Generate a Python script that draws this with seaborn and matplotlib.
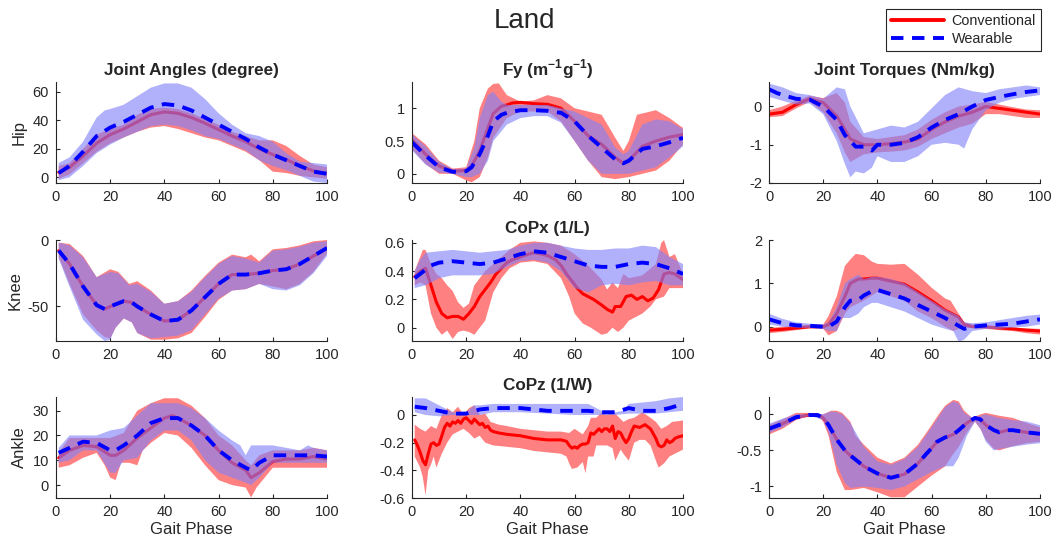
import numpy as np
import matplotlib
matplotlib.use("Agg")
import matplotlib.pyplot as plt
from matplotlib.lines import Line2D
import seaborn as sns

# ---------------- data (gait phase %, value) ----------------
# Hip joint angle (degree)
hipA_c_mean = [(1,3.5),(5,7),(10,15),(15,24),(20,30),(25,34),(30,39),(35,44),(40,46),(45,45),(50,42),(55,38),(60,33.5),(65,29),(70,25),(75,20),(80,16),(85,12.5),(90,8),(95,4.5),(100,2.5)]
hipA_c_hi = [(1,8),(5,10),(10,20),(15,30),(20,34),(25,37),(30,44),(35,48),(40,49),(45,48),(50,45),(55,41),(60,37),(65,32),(70,29),(75,26),(80,26),(85,22),(90,15),(95,9),(100,7)]
hipA_c_lo = [(1,-1),(5,2),(10,10),(15,18),(20,24),(25,28),(30,32),(35,35),(40,36),(45,34),(50,31),(55,28),(60,26),(65,22),(70,18),(75,12),(80,4),(85,3),(90,1),(95,0),(100,-1)]
hipA_w_mean = [(1,3),(5,8),(10,18),(15,29),(20,35),(25,39),(30,44),(35,49),(40,51.5),(45,50.5),(50,47),(55,42),(60,37),(65,32),(70,27),(75,21),(80,16),(85,12),(90,8),(95,4),(100,2.5)]
hipA_w_hi = [(1,10),(5,14),(10,25),(15,42),(18,47),(20,48),(25,51),(30,57),(35,63),(40,66),(45,66),(50,63),(55,55),(60,45),(65,37),(70,31),(75,29),(80,25),(85,17),(90,11),(95,10),(100,9)]
hipA_w_lo = [(1,-2),(5,0),(10,8),(15,17),(20,23),(25,28),(30,32),(35,36),(40,37),(45,36),(50,33),(55,29),(60,27),(65,23),(70,19),(75,12),(80,8),(85,5),(90,1),(95,-3),(100,-4)]

# Fy (m^-1 g^-1)
fy_c_mean = [(0,0.52),(5,0.3),(10,0.12),(15,0.04),(20,0.05),(22,0.12),(25,0.35),(28,0.7),(30,0.92),(33,1.03),(35,1.05),(37,1.08),(40,1.09),(45,1.07),(50,1.06),(55,1.0),(60,0.8),(65,0.58),(70,0.45),(75,0.25),(78,0.16),(80,0.2),(85,0.42),(90,0.5),(95,0.56),(100,0.6)]
fy_c_hi = [(0,0.62),(5,0.45),(10,0.2),(15,0.08),(20,0.1),(23,0.5),(25,1.0),(28,1.3),(30,1.37),(32,1.38),(35,1.2),(40,1.1),(45,1.12),(50,1.2),(55,1.15),(60,1.0),(65,0.95),(70,0.9),(75,0.55),(78,0.35),(80,0.5),(83,0.9),(90,0.97),(95,0.85),(100,0.7)]
fy_c_lo = [(0,0.38),(5,0.15),(10,0.0),(15,0.0),(20,-0.1),(22,-0.13),(25,-0.05),(28,0.25),(30,0.55),(35,0.85),(40,0.95),(45,0.95),(50,0.95),(55,0.8),(60,0.5),(65,0.2),(70,-0.05),(75,-0.08),(80,-0.05),(85,0.0),(90,0.05),(95,0.2),(100,0.45)]
fy_w_mean = [(0,0.48),(5,0.28),(10,0.1),(15,0.03),(20,0.04),(22,0.1),(25,0.3),(28,0.58),(30,0.8),(33,0.9),(35,0.93),(40,0.97),(45,0.97),(50,0.96),(55,0.93),(60,0.8),(65,0.58),(70,0.4),(75,0.22),(78,0.16),(80,0.2),(85,0.38),(90,0.42),(95,0.48),(100,0.55)]
fy_w_hi = [(0,0.6),(5,0.42),(10,0.18),(15,0.07),(20,0.08),(23,0.4),(25,0.85),(28,1.2),(30,1.25),(33,1.1),(35,1.05),(40,1.05),(45,1.05),(50,1.05),(55,1.0),(60,0.95),(65,0.85),(70,0.75),(75,0.4),(78,0.3),(80,0.35),(85,0.75),(90,0.83),(95,0.8),(100,0.68)]
fy_w_lo = [(0,0.36),(5,0.14),(10,0.02),(15,0.0),(20,-0.05),(22,-0.05),(25,0.0),(28,0.2),(30,0.5),(35,0.75),(40,0.85),(45,0.88),(50,0.88),(55,0.78),(60,0.5),(65,0.2),(70,0.0),(75,0.0),(80,0.0),(85,0.05),(90,0.1),(95,0.25),(100,0.42)]

# Hip joint torque (Nm/kg)
hipT_c_mean = [(0,-0.2),(5,-0.15),(10,0.05),(15,0.2),(20,0.1),(25,-0.25),(28,-0.6),(30,-0.85),(35,-1.0),(40,-1.0),(45,-0.97),(50,-0.93),(55,-0.85),(60,-0.6),(65,-0.4),(70,-0.25),(75,-0.15),(80,0.0),(85,-0.05),(90,-0.1),(95,-0.15),(100,-0.2)]
hipT_c_hi = [(0,-0.1),(5,0.0),(10,0.15),(15,0.28),(20,0.22),(25,0.35),(28,0.1),(30,-0.4),(35,-0.8),(40,-0.85),(45,-0.8),(50,-0.75),(55,-0.6),(60,-0.35),(65,-0.15),(70,0.0),(75,0.05),(80,0.12),(85,0.05),(90,-0.02),(95,-0.08),(100,-0.1)]
hipT_c_lo = [(0,-0.28),(5,-0.25),(10,-0.05),(15,0.12),(20,-0.15),(25,-0.7),(28,-1.2),(30,-1.45),(35,-1.25),(40,-1.2),(45,-1.18),(50,-1.15),(55,-1.05),(60,-0.85),(65,-0.7),(70,-0.55),(75,-0.45),(80,-0.2),(85,-0.2),(90,-0.25),(95,-0.3),(100,-0.3)]
hipT_w_mean = [(0,0.45),(3,0.35),(5,0.3),(10,0.2),(15,0.18),(20,0.0),(25,-0.35),(28,-0.75),(30,-0.9),(32,-1.05),(35,-1.05),(38,-1.15),(40,-1.0),(45,-1.0),(50,-0.95),(55,-0.8),(60,-0.55),(65,-0.35),(70,-0.2),(75,0.0),(80,0.17),(85,0.25),(90,0.32),(95,0.38),(100,0.42)]
hipT_w_hi = [(0,0.6),(5,0.5),(10,0.35),(15,0.3),(20,0.2),(25,0.5),(28,0.45),(30,0.0),(35,-0.7),(40,-0.6),(45,-0.5),(50,-0.55),(55,-0.4),(60,-0.05),(65,0.3),(70,0.5),(75,0.4),(80,0.35),(85,0.45),(90,0.5),(95,0.55),(100,0.5)]
hipT_w_lo = [(0,0.25),(5,0.15),(10,0.05),(15,0.08),(20,-0.2),(25,-0.9),(28,-1.5),(30,-1.85),(32,-1.7),(35,-1.75),(38,-1.6),(40,-1.3),(45,-1.45),(50,-1.45),(55,-1.3),(60,-1.0),(65,-0.95),(70,-1.0),(72,-1.1),(75,-0.6),(80,-0.1),(85,0.1),(90,0.2),(95,0.25),(100,0.3)]

# Knee joint angle (degree)
kneeA_c_mean = [(1,-8),(5,-18),(10,-35),(15,-49),(18,-52),(20,-50),(25,-46),(28,-47),(30,-50),(35,-56),(40,-61),(45,-60),(50,-53),(55,-43),(60,-33),(65,-26),(70,-26),(75,-25),(80,-23),(85,-22),(90,-18),(95,-12),(100,-6)]
kneeA_c_hi = [(1,-2),(5,-3),(10,-12),(15,-28),(20,-22),(23,-24),(27,-33),(30,-31),(35,-38),(40,-48),(45,-46),(50,-38),(55,-27),(60,-17),(65,-11),(70,-13),(72,-11),(75,-16),(80,-7),(85,-6),(90,-4),(95,-1),(100,0)]
kneeA_c_lo = [(1,-13),(5,-33),(10,-56),(15,-68),(18,-73),(20,-74),(22,-66),(25,-59),(28,-62),(30,-70),(35,-75),(40,-75),(45,-74),(50,-70),(55,-58),(60,-45),(65,-38),(70,-37),(75,-33),(80,-35),(85,-37),(90,-33),(95,-24),(100,-10)]
kneeA_w_mean = [(1,-8),(5,-18),(10,-35),(15,-49),(18,-52),(20,-50),(25,-46),(28,-47),(30,-50),(35,-56),(40,-61),(45,-60),(50,-53),(55,-43),(60,-33),(65,-26),(70,-26),(75,-25),(80,-23),(85,-22),(90,-18),(95,-12),(100,-6)]
kneeA_w_hi = [(1,-2),(5,-4),(10,-13),(15,-28),(20,-24),(23,-25),(27,-34),(30,-33),(35,-39),(40,-48),(45,-46),(50,-39),(55,-28),(60,-18),(65,-12),(70,-14),(75,-17),(80,-8),(85,-7),(90,-5),(95,-2),(100,-1)]
kneeA_w_lo = [(1,-14),(5,-35),(10,-60),(15,-71),(18,-76),(20,-75),(22,-66),(25,-59),(28,-62),(30,-70),(35,-74),(40,-73),(45,-72),(50,-68),(55,-56),(60,-44),(65,-38),(70,-37),(75,-33),(80,-37),(85,-38),(90,-34),(95,-25),(100,-12)]

# CoPx (1/L)
copx_c_mean = [(1,0.36),(3,0.4),(5,0.42),(7,0.3),(9,0.18),(11,0.1),(13,0.07),(15,0.08),(17,0.08),(19,0.06),(21,0.1),(23,0.15),(25,0.22),(27,0.27),(29,0.32),(31,0.38),(33,0.42),(35,0.46),(37,0.48),(40,0.5),(43,0.52),(45,0.53),(48,0.52),(50,0.51),(53,0.48),(55,0.44),(57,0.38),(59,0.33),(61,0.28),(63,0.24),(65,0.22),(67,0.2),(70,0.16),(72,0.13),(74,0.11),(75,0.15),(77,0.15),(79,0.22),(81,0.23),(83,0.2),(85,0.22),(87,0.19),(89,0.21),(91,0.27),(93,0.38),(95,0.39),(97,0.38),(100,0.34)]
copx_c_hi = [(1,0.4),(3,0.5),(4,0.55),(5,0.55),(7,0.45),(9,0.38),(11,0.35),(13,0.3),(15,0.26),(17,0.18),(19,0.14),(21,0.17),(23,0.3),(25,0.35),(27,0.4),(30,0.45),(33,0.5),(36,0.55),(40,0.6),(45,0.61),(50,0.6),(55,0.58),(60,0.52),(65,0.44),(70,0.34),(72,0.27),(74,0.32),(76,0.28),(78,0.38),(80,0.35),(85,0.37),(90,0.45),(92,0.6),(93,0.62),(95,0.5),(97,0.52),(100,0.38)]
copx_c_lo = [(1,0.3),(3,0.32),(5,0.3),(7,0.1),(9,0.0),(11,-0.05),(13,-0.02),(15,-0.08),(17,-0.03),(19,-0.02),(21,-0.03),(23,-0.05),(25,0.0),(27,0.05),(30,0.25),(33,0.35),(36,0.42),(40,0.46),(45,0.47),(50,0.45),(55,0.35),(58,0.22),(60,0.1),(63,0.03),(66,0.0),(70,-0.05),(72,-0.04),(74,0.0),(76,-0.03),(78,0.0),(80,0.05),(85,0.1),(88,0.15),(90,0.2),(93,0.22),(95,0.28),(100,0.28)]
copx_w_mean = [(1,0.35),(3,0.38),(5,0.41),(7,0.44),(10,0.46),(15,0.47),(20,0.46),(25,0.45),(30,0.46),(35,0.49),(40,0.52),(45,0.54),(50,0.53),(55,0.5),(60,0.47),(65,0.44),(70,0.43),(75,0.43),(80,0.45),(85,0.46),(90,0.45),(95,0.42),(100,0.38)]
copx_w_hi = [(1,0.4),(3,0.48),(5,0.53),(10,0.54),(15,0.55),(20,0.54),(25,0.53),(30,0.54),(35,0.55),(40,0.58),(45,0.6),(50,0.6),(55,0.58),(60,0.56),(65,0.55),(70,0.55),(75,0.56),(80,0.56),(85,0.58),(90,0.57),(95,0.5),(100,0.45)]
copx_w_lo = [(1,0.28),(3,0.29),(5,0.3),(10,0.35),(15,0.37),(20,0.37),(25,0.37),(30,0.38),(35,0.43),(40,0.47),(45,0.48),(50,0.46),(55,0.4),(60,0.28),(65,0.25),(70,0.3),(75,0.31),(80,0.3),(85,0.32),(90,0.33),(95,0.3),(100,0.3)]

# Knee joint torque (Nm/kg)
kneeT_c_mean = [(0,-0.08),(5,-0.06),(10,-0.03),(15,0.0),(20,0.0),(22,0.05),(25,0.3),(28,0.7),(30,1.0),(33,1.1),(35,1.1),(38,1.12),(40,1.12),(45,1.05),(50,0.98),(55,0.8),(60,0.6),(65,0.38),(70,0.22),(72,0.05),(75,0.0),(80,0.0),(85,-0.03),(90,-0.05),(95,-0.08),(100,-0.1)]
kneeT_c_hi = [(0,-0.03),(5,0.0),(10,0.02),(15,0.04),(20,0.05),(22,0.25),(25,0.7),(28,1.4),(30,1.55),(32,1.68),(35,1.65),(38,1.5),(40,1.45),(45,1.43),(50,1.45),(55,1.2),(60,0.9),(65,0.65),(67,0.6),(70,0.3),(72,0.1),(75,0.05),(80,0.02),(85,0.0),(90,-0.02),(95,-0.04),(100,-0.05)]
kneeT_c_lo = [(0,-0.15),(5,-0.12),(10,-0.08),(15,-0.04),(20,-0.05),(22,-0.2),(25,-0.1),(28,0.3),(30,0.45),(35,0.6),(40,0.8),(45,0.7),(50,0.6),(55,0.35),(60,0.2),(65,0.0),(68,-0.1),(70,-0.05),(72,-0.02),(75,-0.03),(80,-0.05),(85,-0.08),(90,-0.1),(95,-0.15),(100,-0.18)]
kneeT_w_mean = [(0,0.17),(5,0.08),(10,0.03),(15,0.02),(20,0.0),(22,0.0),(25,0.12),(28,0.45),(30,0.6),(33,0.62),(35,0.72),(38,0.82),(40,0.85),(45,0.75),(50,0.65),(55,0.5),(60,0.35),(65,0.2),(70,0.02),(72,-0.05),(75,0.0),(80,0.03),(85,0.05),(90,0.07),(95,0.12),(100,0.17)]
kneeT_w_hi = [(0,0.3),(5,0.18),(10,0.1),(15,0.07),(20,0.05),(22,0.1),(25,0.45),(28,1.0),(30,1.1),(33,1.2),(35,1.1),(38,1.15),(40,1.15),(45,1.1),(50,1.0),(55,0.8),(60,0.6),(65,0.4),(70,0.25),(72,0.1),(75,0.08),(80,0.1),(85,0.15),(90,0.2),(95,0.25),(100,0.28)]
kneeT_w_lo = [(0,0.05),(5,0.0),(10,-0.02),(15,-0.03),(20,-0.05),(22,-0.1),(25,-0.1),(27,0.2),(30,0.2),(33,0.3),(35,0.45),(38,0.55),(40,0.55),(45,0.45),(50,0.35),(55,0.2),(60,0.05),(65,-0.05),(68,-0.1),(70,-0.35),(72,-0.3),(75,-0.1),(80,-0.05),(85,-0.05),(90,-0.02),(95,0.0),(100,0.05)]

# Ankle joint angle (degree)
ankA_c_mean = [(1,11),(5,14),(10,16),(15,15.5),(20,12),(22,12),(25,14),(30,19),(35,23),(40,27),(43,28),(45,27),(50,24),(55,20),(60,14),(65,9),(70,6),(72,3),(75,5),(80,9.5),(85,10.5),(90,10.5),(95,11.5),(100,10.5)]
ankA_c_hi = [(1,13),(5,19),(10,19),(15,19),(20,19),(25,21),(30,30),(35,33),(40,35),(45,35),(50,32),(55,27),(60,20),(65,16),(70,10),(72,8),(75,12),(80,14),(85,14),(90,14),(95,15),(100,14)]
ankA_c_lo = [(1,7),(5,8),(10,11),(15,13),(18,8),(20,3),(22,2),(24,9),(27,9),(30,8),(32,14),(35,17),(40,21),(45,20),(50,15),(55,8),(60,2),(65,0),(70,-1),(72,-5),(74,-1),(77,3),(80,7),(85,7),(90,7),(95,7),(100,7)]
ankA_w_mean = [(1,13),(5,15),(10,17.5),(15,17),(20,14),(22,14),(25,16),(30,20),(35,25),(40,27),(45,27),(50,24),(55,20),(60,14),(65,10),(70,7),(72,6),(75,9),(80,12),(85,12),(90,12),(95,12),(100,11.5)]
ankA_w_hi = [(1,15),(5,20),(10,20),(15,20),(20,22),(25,23),(30,28),(35,33),(40,33),(45,33),(50,31),(55,27),(60,22),(65,18),(68,16),(70,12),(72,16),(75,16),(80,16),(85,15),(90,14),(93,16),(95,15),(100,14)]
ankA_w_lo = [(1,9),(5,10),(10,14),(15,14),(20,5),(22,5),(25,10),(30,11),(35,18),(40,22),(45,22),(50,18),(55,10),(60,5),(65,3),(70,1),(72,0),(75,3),(80,9),(85,9),(90,9),(95,9),(100,9)]

# CoPz (1/W)
copz_c_mean = [(1,-0.18),(2,-0.22),(3,-0.27),(4,-0.33),(5,-0.36),(6,-0.28),(7,-0.21),(8,-0.2),(9,-0.22),(10,-0.21),(11,-0.15),(12,-0.09),(13,-0.06),(14,-0.08),(15,-0.05),(16,-0.06),(17,-0.04),(18,-0.06),(19,-0.03),(20,-0.02),(21,-0.04),(22,-0.06),(23,-0.03),(24,-0.05),(25,-0.07),(26,-0.06),(27,-0.09),(28,-0.08),(29,-0.11),(30,-0.12),(32,-0.13),(35,-0.14),(40,-0.15),(45,-0.17),(50,-0.18),(55,-0.18),(57,-0.19),(58,-0.22),(59,-0.24),(60,-0.23),(61,-0.24),(62,-0.22),(63,-0.21),(64,-0.21),(65,-0.2),(66,-0.13),(67,-0.14),(68,-0.12),(69,-0.1),(70,-0.12),(71,-0.1),(72,-0.1),(73,-0.12),(74,-0.08),(75,-0.17),(76,-0.12),(77,-0.13),(78,-0.17),(79,-0.2),(80,-0.17),(81,-0.12),(82,-0.08),(84,-0.09),(86,-0.07),(88,-0.1),(90,-0.17),(91,-0.22),(92,-0.23),(93,-0.22),(94,-0.18),(95,-0.2),(96,-0.19),(97,-0.17),(98,-0.16),(100,-0.15)]
copz_c_hi = [(1,-0.07),(3,-0.1),(5,-0.12),(7,-0.08),(9,-0.1),(11,0.0),(13,0.05),(15,0.02),(17,0.06),(19,0.0),(21,0.05),(23,0.07),(25,0.0),(27,0.01),(29,-0.05),(32,-0.07),(35,-0.08),(40,-0.1),(45,-0.11),(50,-0.12),(55,-0.12),(58,-0.13),(60,-0.1),(63,-0.14),(65,-0.08),(66,-0.02),(68,-0.02),(70,0.02),(72,0.0),(74,0.03),(76,-0.01),(78,-0.05),(80,-0.03),(82,-0.02),(85,0.02),(88,-0.02),(90,-0.05),(92,-0.1),(94,-0.08),(96,-0.05),(100,-0.04)]
copz_c_lo = [(1,-0.3),(3,-0.38),(4,-0.45),(5,-0.58),(6,-0.4),(7,-0.36),(8,-0.3),(9,-0.38),(11,-0.28),(13,-0.2),(15,-0.14),(17,-0.12),(19,-0.1),(21,-0.13),(23,-0.17),(25,-0.15),(27,-0.2),(30,-0.22),(35,-0.23),(40,-0.24),(45,-0.26),(50,-0.27),(55,-0.28),(57,-0.3),(58,-0.35),(59,-0.39),(61,-0.38),(63,-0.34),(64,-0.42),(65,-0.3),(67,-0.3),(68,-0.22),(70,-0.22),(72,-0.22),(74,-0.24),(75,-0.33),(77,-0.25),(78,-0.28),(80,-0.33),(82,-0.2),(84,-0.18),(86,-0.18),(88,-0.22),(90,-0.33),(91,-0.38),(93,-0.35),(95,-0.3),(97,-0.28),(100,-0.25)]
copz_w_mean = [(1,0.06),(5,0.05),(10,0.03),(15,0.01),(20,0.01),(25,0.04),(30,0.05),(35,0.05),(40,0.05),(45,0.04),(50,0.03),(55,0.03),(60,0.03),(65,0.03),(70,0.02),(75,0.02),(80,0.05),(85,0.03),(90,0.03),(95,0.05),(100,0.08)]
copz_w_hi = [(1,0.12),(5,0.12),(10,0.07),(15,0.02),(20,0.02),(23,0.07),(25,0.07),(30,0.08),(40,0.08),(50,0.08),(60,0.08),(65,0.08),(70,0.03),(75,0.02),(78,0.03),(80,0.08),(85,0.09),(90,0.1),(95,0.12),(100,0.13)]
copz_w_lo = [(1,0.02),(5,0.0),(10,-0.01),(15,0.0),(20,0.0),(25,0.0),(30,0.02),(40,0.02),(50,0.01),(60,0.0),(65,0.0),(70,0.0),(75,0.0),(80,0.01),(85,0.01),(90,0.01),(95,0.02),(100,0.03)]

# Ankle joint torque (Nm/kg)
ankT_c_mean = [(0,-0.2),(5,-0.13),(10,-0.04),(15,-0.01),(18,-0.01),(20,-0.05),(22,-0.15),(25,-0.35),(28,-0.5),(30,-0.57),(35,-0.72),(40,-0.82),(45,-0.88),(50,-0.83),(55,-0.68),(58,-0.55),(60,-0.47),(62,-0.38),(65,-0.32),(68,-0.28),(70,-0.22),(73,-0.12),(76,-0.05),(78,-0.07),(80,-0.15),(83,-0.22),(85,-0.25),(88,-0.22),(90,-0.22),(95,-0.25),(100,-0.27)]
ankT_c_hi = [(0,-0.15),(5,-0.07),(10,0.02),(15,0.02),(18,0.0),(20,0.0),(23,0.05),(25,0.05),(27,0.02),(30,-0.1),(32,-0.3),(35,-0.42),(40,-0.6),(45,-0.68),(50,-0.6),(55,-0.42),(60,-0.15),(63,0.02),(65,0.12),(68,0.2),(70,0.18),(72,0.05),(75,-0.05),(78,0.0),(80,0.02),(85,-0.02),(90,-0.05),(95,-0.12),(100,-0.18)]
ankT_c_lo = [(0,-0.28),(5,-0.2),(10,-0.08),(15,-0.02),(18,-0.02),(20,-0.1),(22,-0.3),(25,-0.8),(28,-1.05),(30,-1.05),(35,-1.02),(40,-1.08),(45,-1.15),(50,-1.15),(55,-1.0),(60,-0.85),(65,-0.72),(68,-0.55),(70,-0.45),(73,-0.25),(76,-0.1),(78,-0.2),(80,-0.35),(83,-0.48),(85,-0.5),(90,-0.44),(95,-0.4),(100,-0.38)]
ankT_w_mean = [(0,-0.2),(5,-0.13),(10,-0.04),(15,-0.01),(18,-0.01),(20,-0.05),(22,-0.15),(25,-0.35),(28,-0.5),(30,-0.57),(35,-0.72),(40,-0.82),(45,-0.88),(50,-0.83),(55,-0.68),(58,-0.55),(60,-0.47),(62,-0.38),(65,-0.32),(68,-0.28),(70,-0.22),(73,-0.12),(76,-0.05),(78,-0.07),(80,-0.15),(83,-0.22),(85,-0.25),(88,-0.22),(90,-0.22),(95,-0.25),(100,-0.27)]
ankT_w_hi = [(0,-0.13),(5,-0.06),(10,0.0),(15,0.0),(20,0.0),(23,0.04),(25,0.03),(27,0.0),(30,-0.12),(35,-0.45),(40,-0.65),(45,-0.7),(50,-0.62),(55,-0.45),(60,-0.18),(65,0.1),(68,0.18),(70,0.15),(72,0.02),(75,-0.05),(78,-0.02),(80,0.0),(85,-0.05),(90,-0.08),(95,-0.1),(100,-0.15)]
ankT_w_lo = [(0,-0.26),(5,-0.18),(10,-0.07),(15,-0.02),(20,-0.08),(22,-0.25),(25,-0.7),(28,-0.95),(30,-1.02),(35,-1.0),(40,-1.02),(45,-1.05),(50,-1.0),(55,-0.9),(60,-0.8),(65,-0.72),(68,-0.72),(70,-0.6),(73,-0.3),(76,-0.1),(78,-0.2),(80,-0.38),(83,-0.5),(85,-0.48),(90,-0.45),(95,-0.42),(100,-0.4)]

row_labels = ["Hip", "Knee", "Ankle"]
panel_titles = {(0, 0): "Joint Angles (degree)",
                (0, 1): r"Fy (m$^{\mathbf{-1}}$g$^{\mathbf{-1}}$)",
                (0, 2): "Joint Torques (Nm/kg)",
                (1, 1): "CoPx (1/L)",
                (2, 1): "CoPz (1/W)"}
yticks = {(0, 0): [0, 20, 40, 60], (0, 1): [0, 0.5, 1], (0, 2): [-2, -1, 0],
          (1, 0): [-50, 0], (1, 1): [0, 0.2, 0.4, 0.6], (1, 2): [0, 1, 2],
          (2, 0): [0, 10, 20, 30], (2, 1): [-0.6, -0.4, -0.2, 0], (2, 2): [-1, -0.5, 0]}
ylims = {(0, 0): (-4, 67), (0, 1): (-0.14, 1.4), (0, 2): (-2, 0.64),
         (1, 0): (-76, 0), (1, 1): (-0.094, 0.62), (1, 2): (-0.33, 2),
         (2, 0): (-5.2, 35.5), (2, 1): (-0.6, 0.13), (2, 2): (-1.16, 0.24)}
xticks = [0, 20, 40, 60, 80, 100]

panels = {
    (0, 0): (hipA_c_mean, hipA_c_hi, hipA_c_lo, hipA_w_mean, hipA_w_hi, hipA_w_lo),
    (0, 1): (fy_c_mean, fy_c_hi, fy_c_lo, fy_w_mean, fy_w_hi, fy_w_lo),
    (0, 2): (hipT_c_mean, hipT_c_hi, hipT_c_lo, hipT_w_mean, hipT_w_hi, hipT_w_lo),
    (1, 0): (kneeA_c_mean, kneeA_c_hi, kneeA_c_lo, kneeA_w_mean, kneeA_w_hi, kneeA_w_lo),
    (1, 1): (copx_c_mean, copx_c_hi, copx_c_lo, copx_w_mean, copx_w_hi, copx_w_lo),
    (1, 2): (kneeT_c_mean, kneeT_c_hi, kneeT_c_lo, kneeT_w_mean, kneeT_w_hi, kneeT_w_lo),
    (2, 0): (ankA_c_mean, ankA_c_hi, ankA_c_lo, ankA_w_mean, ankA_w_hi, ankA_w_lo),
    (2, 1): (copz_c_mean, copz_c_hi, copz_c_lo, copz_w_mean, copz_w_hi, copz_w_lo),
    (2, 2): (ankT_c_mean, ankT_c_hi, ankT_c_lo, ankT_w_mean, ankT_w_hi, ankT_w_lo),
}

# ---------------- style ----------------
sns.set_theme(style="white")
plt.rcParams["font.family"] = ["Liberation Sans", "DejaVu Sans"]
plt.rcParams["mathtext.fontset"] = "custom"
plt.rcParams["mathtext.rm"] = "Liberation Sans"
plt.rcParams["mathtext.bf"] = "Liberation Sans:bold"
plt.rcParams["axes.unicode_minus"] = False

RED = (1, 0, 0)
BLUE = (0, 0, 1)
RED_FILL = (1.0, 0.5, 0.5)
BLUE_FILL = (0.5, 0.5, 0.98)
DASH = (0, (3.2, 2.2))

fig = plt.figure(figsize=(10.6, 5.46), dpi=100)
col_left = [56, 412, 769]
row_bottom = [183, 341, 498]
W, H = 271, 101


def xy(pairs):
    return [p[0] for p in pairs], [p[1] for p in pairs]


def band(ax, hi, lo, color, alpha, z):
    xh, yh = xy(hi)
    xl, yl = xy(lo)
    ax.fill(xh + xl[::-1], yh + yl[::-1], color=color, alpha=alpha, lw=0, zorder=z)


def fmt(v):
    return f"{v:g}"


for (r, c), (cm, ch, cl, wm, wh, wl) in panels.items():
    ax = fig.add_axes([col_left[c] / 1060, 1 - row_bottom[r] / 546, W / 1060, H / 546])
    band(ax, ch, cl, RED_FILL, 1.0, 1)
    x, y = xy(cm)
    sns.lineplot(x=x, y=y, ax=ax, color=RED, lw=2.2, estimator=None, sort=False, zorder=2)
    band(ax, wh, wl, BLUE_FILL, 0.62, 3)
    x, y = xy(wm)
    sns.lineplot(x=x, y=y, ax=ax, color=BLUE, lw=2.8, linestyle=DASH, estimator=None,
                 sort=False, zorder=4)

    ax.set_xlim(0, 100)
    ax.set_ylim(*ylims[(r, c)])
    ax.set_xticks(xticks)
    ax.set_xticklabels([str(t) for t in xticks])
    ax.set_yticks(yticks[(r, c)])
    ax.set_yticklabels([fmt(t) for t in yticks[(r, c)]])
    ax.tick_params(direction="in", length=3, width=0.8, labelsize=10.5, colors="#262626",
                   pad=5, bottom=True, left=True)
    for s in ["top", "right"]:
        ax.spines[s].set_visible(False)
    for s in ["left", "bottom"]:
        ax.spines[s].set_color("#262626")
        ax.spines[s].set_linewidth(0.8)
        ax.spines[s].set_zorder(5)
    if (r, c) in panel_titles:
        ax.set_title(panel_titles[(r, c)], fontsize=12.3, fontweight="bold", pad=5)
    if c == 0:
        ax.set_ylabel(row_labels[r], fontsize=12, labelpad=4)
    if r == 2:
        ax.set_xlabel("Gait Phase", fontsize=12, labelpad=2)

fig.text(0.495, 0.962, "Land", ha="center", va="center", fontsize=20)

handles = [Line2D([], [], color=RED, lw=2.8),
           Line2D([], [], color=BLUE, lw=2.8, linestyle=DASH)]
leg = fig.legend(handles, ["Conventional", "Wearable"], loc="upper right",
                 bbox_to_anchor=(1041 / 1060, 1 - 9 / 546), borderaxespad=0,
                 fontsize=10.4, frameon=True,
                 fancybox=False, edgecolor="#262626", framealpha=1,
                 handlelength=3.7, borderpad=0.35, labelspacing=0.3, handletextpad=0.5)
leg.get_frame().set_linewidth(0.8)

fig.savefig("out.png", dpi=100)
